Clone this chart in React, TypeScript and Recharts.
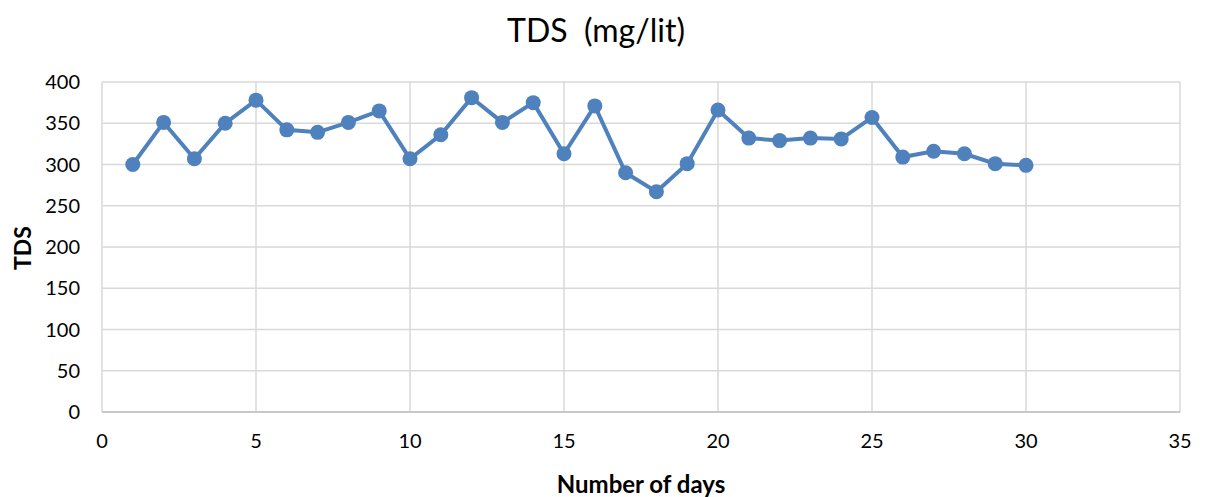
import { CartesianGrid, Label, Line, LineChart, XAxis, YAxis } from "recharts";

const days = [1, 2, 3, 4, 5, 6, 7, 8, 9, 10, 11, 12, 13, 14, 15, 16, 17, 18, 19, 20, 21, 22, 23, 24, 25, 26, 27, 28, 29, 30];
const tds = [300, 351, 307, 350, 378, 342, 339, 351, 365, 307, 336, 381, 351, 375, 313, 371, 290, 267, 301, 366, 332, 329, 332, 331, 357, 309, 316, 313, 301, 299];
const xTicks = [0, 5, 10, 15, 20, 25, 30, 35];
const yTicks = [0, 50, 100, 150, 200, 250, 300, 350, 400];

const data = days.map((day, i) => ({ day, tds: tds[i] }));

const font = "Lato, 'Open Sans', sans-serif";

export default function App() {
  return (
    <div style={{ position: "absolute", left: 0, top: 0, width: 1208, height: 497, background: "#fff", fontFamily: font }}>
      <div style={{ position: "absolute", top: 10, left: 0, width: 1192, textAlign: "center", fontSize: 32, color: "#000", whiteSpace: "pre" }}>
        {"TDS  (mg/lit)"}
      </div>
      <LineChart width={1208} height={497} data={data} margin={{ top: 82, right: 28, left: 0, bottom: 0 }}>
        <CartesianGrid stroke="#d9d9d9" strokeWidth={1.5} />
        <XAxis
          dataKey="day"
          type="number"
          domain={[0, 35]}
          ticks={xTicks}
          height={85}
          axisLine={{ stroke: "#bfbfbf", strokeWidth: 1.5 }}
          tickLine={false}
          tickMargin={16}
          tick={{ fill: "#000", fontSize: 20, fontFamily: font }}
        >
          <Label
            value="Number of days"
            position="insideBottom"
            offset={4}
            style={{ fill: "#000", fontSize: 24, fontWeight: 700, fontFamily: font }}
          />
        </XAxis>
        <YAxis
          type="number"
          domain={[0, 400]}
          ticks={yTicks}
          width={102}
          axisLine={false}
          tickLine={false}
          tickMargin={16}
          tick={{ fill: "#000", fontSize: 20, fontFamily: font }}
        >
          <Label
            content={() => (
              <text
                x={22}
                y={248}
                transform="rotate(-90 22 248)"
                textAnchor="middle"
                dominantBaseline="central"
                style={{ fill: "#000", fontSize: 23, fontWeight: 700, fontFamily: font }}
              >
                TDS
              </text>
            )}
          />
        </YAxis>
        <Line
          type="linear"
          dataKey="tds"
          stroke="#4f81bd"
          strokeWidth={4}
          dot={{ r: 7.5, fill: "#4f81bd", stroke: "#4f81bd", strokeWidth: 0 }}
          activeDot={false}
          isAnimationActive={false}
        />
      </LineChart>
    </div>
  );
}
